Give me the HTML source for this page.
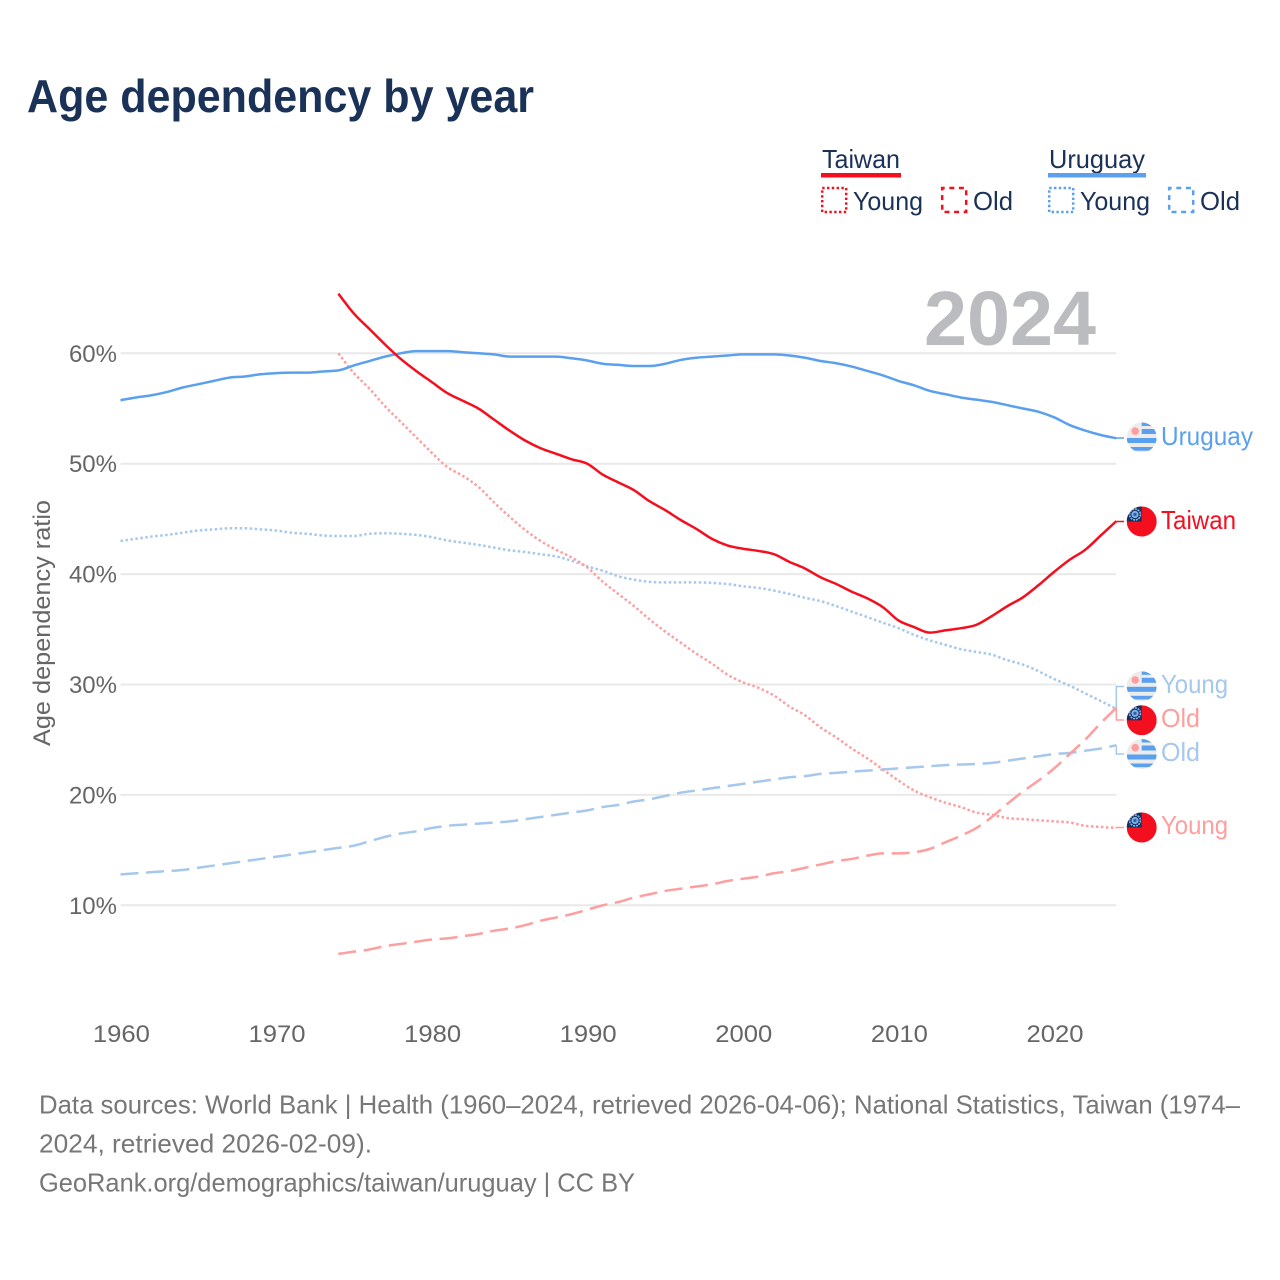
<!DOCTYPE html>
<html lang="en">
<head>
<meta charset="utf-8">
<title>Age dependency by year</title>
<style>
html,body{margin:0;padding:0;background:#fff}
svg{display:block}
text{font-family:"Liberation Sans",sans-serif}
</style>
</head>
<body>
<svg id="chart" xmlns="http://www.w3.org/2000/svg" width="1280" height="1280" viewBox="0 0 1280 1280">
<defs>
<clipPath id="flag-clip"><circle cx="0" cy="0" r="15"/></clipPath>
<g id="flag-tw">
<g clip-path="url(#flag-clip)">
<rect x="-15" y="-15" width="30" height="30" fill="#f40f1f"/>
<rect x="-15" y="-15" width="15" height="15" fill="#17305c"/>
<circle cx="-6.7" cy="-7" r="5.4" fill="none" stroke="#7db4f0" stroke-width="1.6" stroke-dasharray="2 0.8"/>
<circle cx="-6.7" cy="-7" r="3.6" fill="#7db4f0"/>
<circle cx="-6.7" cy="-7" r="1.7" fill="#3a5f98"/>
</g>
</g>
<g id="flag-uy">
<g clip-path="url(#flag-clip)">
<rect x="-15" y="-15" width="30" height="30" fill="#ececec"/>
<rect x="0" y="-15" width="15" height="3.5" fill="#5aa0ee"/>
<rect x="0" y="-8.5" width="15" height="5" fill="#5aa0ee"/>
<rect x="-15" y="0.5" width="30" height="5" fill="#5aa0ee"/>
<rect x="-15" y="9.5" width="30" height="3.7" fill="#5aa0ee"/>
<circle cx="-6.5" cy="-6.3" r="3.8" fill="#ff9e9e"/>
</g>
</g>
</defs>

<text x="27" y="112" font-size="46" font-weight="700" fill="#1a3158" textLength="507" lengthAdjust="spacingAndGlyphs">Age dependency by year</text>

<g>
<text x="822" y="168" font-size="26" fill="#1a3158" textLength="78" lengthAdjust="spacingAndGlyphs">Taiwan</text>
<rect x="821" y="173" width="80" height="4.5" fill="#f40f1f"/>
<rect x="822.2" y="188" width="24" height="24" fill="none" stroke="#f40f1f" stroke-width="2.5" stroke-dasharray="2.4 2.4"/>
<text x="853" y="210" font-size="26" fill="#1a3158" textLength="70" lengthAdjust="spacingAndGlyphs">Young</text>
<rect x="942.2" y="188" width="24" height="24" fill="none" stroke="#f40f1f" stroke-width="2.5" stroke-dasharray="5 4.6" stroke-dashoffset="2.5"/>
<text x="973" y="210" font-size="26" fill="#1a3158" textLength="40" lengthAdjust="spacingAndGlyphs">Old</text>
<text x="1049" y="168" font-size="26" fill="#1a3158" textLength="96" lengthAdjust="spacingAndGlyphs">Uruguay</text>
<rect x="1048" y="173" width="98" height="4.5" fill="#5aa0ee"/>
<rect x="1049.2" y="188" width="24" height="24" fill="none" stroke="#5aa0ee" stroke-width="2.5" stroke-dasharray="2.4 2.4"/>
<text x="1080" y="210" font-size="26" fill="#1a3158" textLength="70" lengthAdjust="spacingAndGlyphs">Young</text>
<rect x="1169.2" y="188" width="24" height="24" fill="none" stroke="#5aa0ee" stroke-width="2.5" stroke-dasharray="5 4.6" stroke-dashoffset="2.5"/>
<text x="1200" y="210" font-size="26" fill="#1a3158" textLength="40" lengthAdjust="spacingAndGlyphs">Old</text>
</g>

<text transform="translate(50 623) rotate(-90)" text-anchor="middle" font-size="24" fill="#666" textLength="246" lengthAdjust="spacingAndGlyphs">Age dependency ratio</text>

<g id="grid"></g>
<text x="924" y="345" font-size="77" font-weight="700" fill="#bbbcbf" textLength="172" lengthAdjust="spacingAndGlyphs">2024</text>
<g id="x-ticks"></g>
<g id="y-ticks"></g>
<g id="series"></g>

<g>
<use href="#flag-uy" x="1141.7" y="437.5"/>
<text x="1161" y="445" font-size="26" fill="#5aa0ee" textLength="92" lengthAdjust="spacingAndGlyphs">Uruguay</text>
<use href="#flag-tw" x="1141.7" y="521.5"/>
<text x="1161" y="529" font-size="26" fill="#f40f1f" textLength="75" lengthAdjust="spacingAndGlyphs">Taiwan</text>
<use href="#flag-uy" x="1141.7" y="686.3"/>
<text x="1161" y="693" font-size="26" fill="#a6c8ec" textLength="67" lengthAdjust="spacingAndGlyphs">Young</text>
<use href="#flag-tw" x="1141.7" y="720.3"/>
<text x="1161" y="727" font-size="26" fill="#ff9e9e" textLength="39" lengthAdjust="spacingAndGlyphs">Old</text>
<use href="#flag-uy" x="1141.7" y="754"/>
<text x="1161" y="761" font-size="26" fill="#a6c8ec" textLength="39" lengthAdjust="spacingAndGlyphs">Old</text>
<use href="#flag-tw" x="1141.7" y="827.5"/>
<text x="1161" y="834" font-size="26" fill="#ff9e9e" textLength="67" lengthAdjust="spacingAndGlyphs">Young</text>
</g>

<g>
<text x="39" y="1113.5" font-size="26" fill="#777" textLength="1201" lengthAdjust="spacingAndGlyphs">Data sources: World Bank | Health (1960–2024, retrieved 2026-04-06); National Statistics, Taiwan (1974–</text>
<text x="39" y="1152.5" font-size="26" fill="#777" textLength="333" lengthAdjust="spacingAndGlyphs">2024, retrieved 2026-02-09).</text>
<text x="39" y="1191.5" font-size="26" fill="#777" textLength="596" lengthAdjust="spacingAndGlyphs">GeoRank.org/demographics/taiwan/uruguay | CC BY</text>
</g>
</svg>

<script>
const xTicks = [1960, 1970, 1980, 1990, 2000, 2010, 2020];
const yTicks = [10, 20, 30, 40, 50, 60];
const uruguayStartYear = 1960;
const taiwanStartYear = 1974;
const uruguayTotal = [55.75,56.0,56.2,56.5,56.9,57.2,57.5,57.8,57.9,58.1,58.2,58.25,58.25,58.35,58.45,58.9,59.3,59.7,60.0,60.2,60.2,60.2,60.1,60.0,59.9,59.7,59.7,59.7,59.7,59.55,59.35,59.05,58.95,58.85,58.85,59.05,59.4,59.6,59.7,59.8,59.9,59.9,59.9,59.8,59.6,59.3,59.1,58.8,58.4,58.0,57.5,57.1,56.6,56.3,56.0,55.8,55.6,55.3,55.0,54.7,54.2,53.5,53.0,52.6,52.3];
const uruguayYoung = [43.0,43.2,43.4,43.55,43.75,43.95,44.05,44.15,44.15,44.05,43.95,43.75,43.65,43.5,43.45,43.45,43.65,43.7,43.65,43.55,43.35,43.05,42.85,42.65,42.4,42.15,42.0,41.8,41.6,41.2,40.7,40.3,39.8,39.5,39.3,39.25,39.25,39.25,39.2,39.1,38.9,38.75,38.5,38.2,37.85,37.55,37.1,36.6,36.1,35.6,35.1,34.5,34.0,33.6,33.2,32.95,32.7,32.2,31.8,31.2,30.5,29.9,29.2,28.5,27.8];
const uruguayOld = [12.8,12.9,13.0,13.1,13.2,13.4,13.6,13.8,14.0,14.2,14.4,14.6,14.8,15.0,15.2,15.4,15.8,16.2,16.5,16.7,17.0,17.2,17.3,17.4,17.5,17.6,17.8,18.0,18.2,18.4,18.6,18.9,19.1,19.4,19.6,19.9,20.2,20.4,20.6,20.8,21.0,21.2,21.4,21.6,21.7,21.9,22.0,22.1,22.2,22.3,22.4,22.5,22.6,22.7,22.75,22.8,22.9,23.1,23.3,23.5,23.7,23.8,24.0,24.2,24.5];
const taiwanTotal = [65.4,63.6,62.2,60.8,59.5,58.4,57.4,56.4,55.7,55.0,54.0,53.0,52.1,51.4,50.9,50.4,50.0,49.0,48.3,47.6,46.6,45.8,44.9,44.1,43.2,42.6,42.3,42.1,41.8,41.1,40.5,39.7,39.1,38.4,37.8,37.0,35.8,35.2,34.7,34.9,35.1,35.4,36.2,37.1,37.9,39.0,40.2,41.3,42.2,43.5,44.8];
const taiwanYoung = [60.0,58.2,56.8,55.2,53.8,52.4,51.0,49.7,48.9,47.9,46.5,45.2,44.0,43.0,42.2,41.5,40.6,39.3,38.2,37.1,35.9,34.8,33.8,32.8,31.9,30.9,30.2,29.7,29.0,28.0,27.2,26.1,25.2,24.2,23.3,22.3,21.3,20.4,19.8,19.3,18.9,18.4,18.2,17.9,17.8,17.7,17.6,17.5,17.2,17.1,17.0];
const taiwanOld = [5.6,5.8,6.0,6.3,6.5,6.7,6.9,7.0,7.2,7.4,7.7,7.9,8.2,8.6,8.9,9.2,9.6,10.0,10.3,10.7,11.0,11.3,11.5,11.7,11.9,12.2,12.4,12.6,12.9,13.1,13.4,13.7,14.0,14.2,14.5,14.7,14.7,14.8,15.1,15.7,16.3,17.0,18.0,19.2,20.3,21.3,22.4,23.7,25.0,26.5,27.9];

const SVG_NS = 'http://www.w3.org/2000/svg';
function xScale(year) { return 120.5 + (year - 1960) * 15.56; }
function yScale(pct) { return 905.3 - (pct - 10) * 11.04; }

function monotonePath(xs, ys) {
  const n = xs.length;
  const m = [];
  for (let i = 0; i < n; i++) {
    if (i === 0 || i === n - 1) { m.push(null); continue; }
    const s0 = (ys[i] - ys[i - 1]) / (xs[i] - xs[i - 1]);
    const s1 = (ys[i + 1] - ys[i]) / (xs[i + 1] - xs[i]);
    const p = (s0 + s1) / 2;
    const sign = (Math.sign(s0) + Math.sign(s1)) || 0;
    m.push(sign * Math.min(Math.abs(s0), Math.abs(s1), 0.5 * Math.abs(p)));
  }
  m[0] = (ys[1] - ys[0]) / (xs[1] - xs[0]);
  m[n - 1] = (ys[n - 1] - ys[n - 2]) / (xs[n - 1] - xs[n - 2]);
  let d = 'M' + xs[0].toFixed(2) + ' ' + ys[0].toFixed(2);
  for (let i = 0; i < n - 1; i++) {
    const h = (xs[i + 1] - xs[i]) / 3;
    d += ' C' + (xs[i] + h).toFixed(2) + ' ' + (ys[i] + m[i] * h).toFixed(2) + ' ' +
      (xs[i + 1] - h).toFixed(2) + ' ' + (ys[i + 1] - m[i + 1] * h).toFixed(2) + ' ' +
      xs[i + 1].toFixed(2) + ' ' + ys[i + 1].toFixed(2);
  }
  return d;
}

const gridGroup = document.getElementById('grid');
const yTickGroup = document.getElementById('y-ticks');
const xTickGroup = document.getElementById('x-ticks');
const seriesGroup = document.getElementById('series');

yTicks.forEach(function (t) {
  const line = document.createElementNS(SVG_NS, 'line');
  
  
  line.setAttribute('x1', xScale(1960));
  line.setAttribute('x2', xScale(2024));
  line.setAttribute('y1', yScale(t));
  line.setAttribute('y2', yScale(t));
  line.setAttribute('stroke', '#e9e9e9');
  line.setAttribute('stroke-width', '2');
  gridGroup.appendChild(line);

  const label = document.createElementNS(SVG_NS, 'text');
  
  
  label.setAttribute('x', 117);
  label.setAttribute('y', yScale(t) + 8.5);
  label.setAttribute('text-anchor', 'end');
  label.setAttribute('font-size', '24');
  label.setAttribute('fill', '#666');
  label.textContent = t + '%';
  yTickGroup.appendChild(label);
});

xTicks.forEach(function (t) {
  const label = document.createElementNS(SVG_NS, 'text');
  
  
  label.setAttribute('x', xScale(t) + 0.9);
  label.setAttribute('y', 1042);
  label.setAttribute('text-anchor', 'middle');
  label.setAttribute('font-size', '24');
  label.setAttribute('fill', '#666');
  label.setAttribute('textLength', '57');
  label.setAttribute('lengthAdjust', 'spacingAndGlyphs');
  label.textContent = t;
  xTickGroup.appendChild(label);
});

function drawSeries(name, startYear, values, color, dash, slotY) {
  const xs = values.map(function (v, i) { return xScale(startYear + i); });
  const ys = values.map(function (v) { return yScale(v); });
  const path = document.createElementNS(SVG_NS, 'path');
  
  
  path.setAttribute('d', monotonePath(xs, ys));
  path.setAttribute('fill', 'none');
  path.setAttribute('stroke', color);
  path.setAttribute('stroke-width', '2.5');
  path.setAttribute('stroke-linejoin', 'round');
  if (dash) path.setAttribute('stroke-dasharray', dash);
  seriesGroup.appendChild(path);

  const endX = xs[xs.length - 1];
  const endY = ys[ys.length - 1];
  const leader = document.createElementNS(SVG_NS, 'path');
  
  
  leader.setAttribute('d', 'M' + endX + ' ' + endY + ' V' + slotY + ' H1124');
  leader.setAttribute('fill', 'none');
  leader.setAttribute('stroke', color);
  leader.setAttribute('stroke-width', '1.5');
  seriesGroup.appendChild(leader);
}

drawSeries('uruguay-young', uruguayStartYear, uruguayYoung, '#a6c8ec', '2.5 2.5', 686.5);
drawSeries('uruguay-old', uruguayStartYear, uruguayOld, '#a6c8ec', '18 7.6', 754);
drawSeries('taiwan-young', taiwanStartYear, taiwanYoung, '#ff9e9e', '2.5 2.5', 827.5);
drawSeries('taiwan-old', taiwanStartYear, taiwanOld, '#ff9e9e', '18 7.6', 720);
drawSeries('uruguay-total', uruguayStartYear, uruguayTotal, '#5aa0ee', '', 438);
drawSeries('taiwan-total', taiwanStartYear, taiwanTotal, '#f40f1f', '', 521.5);
</script>
</body>
</html>
